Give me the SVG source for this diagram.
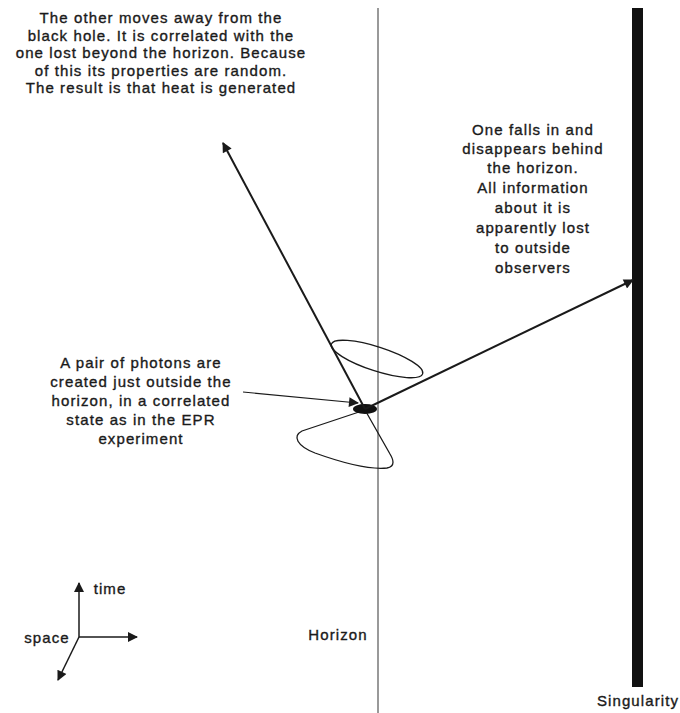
<svg xmlns="http://www.w3.org/2000/svg" width="680" height="713" viewBox="0 0 680 713">
<defs>
<style>
text{font-family:"Liberation Sans",Arial,sans-serif;font-size:15px;font-weight:normal;letter-spacing:1.1px;fill:#1a1a1a;stroke:#1a1a1a;stroke-width:0.35px;text-anchor:middle}
.ln{stroke:#1a1a1a;fill:none}
</style>
<marker id="ahb" viewBox="0 0 10 10" refX="9" refY="5" markerWidth="12" markerHeight="10" orient="auto" markerUnits="userSpaceOnUse">
<path d="M0,0 L10,5 L0,10 z" fill="#1a1a1a"/>
</marker>
</defs>
<rect width="680" height="713" fill="#fff"/>
<g id="horizon">
<line x1="378" y1="8" x2="378" y2="713" stroke="#777" stroke-width="1.5"/>
<text x="338" y="640">Horizon</text>
</g>
<g id="singularity">
<rect x="632" y="8" width="11" height="679" fill="#111"/>
<text x="638" y="706">Singularity</text>
</g>
<g id="cones">
<ellipse cx="377" cy="359" rx="48" ry="12" transform="rotate(18 377 359)" class="ln" stroke-width="1.3"/>
<path d="M365,410 L302,431 C292,436 297,446 315,453 C340,462 368,470 387,468 C396,466 393,459 390,454 L365,410" class="ln" stroke-width="1.3"/>
<ellipse cx="365" cy="409" rx="12" ry="5" fill="#111"/>
</g>
<g id="connectors">
<line x1="365" y1="409" x2="223" y2="143" class="ln" stroke-width="2" marker-end="url(#ahb)"/>
<line x1="365" y1="409" x2="633" y2="280" class="ln" stroke-width="2" marker-end="url(#ahb)"/>
<line x1="243" y1="392" x2="358" y2="403" class="ln" stroke-width="1.2" marker-end="url(#ahb)"/>
<line x1="79" y1="637" x2="79" y2="583" class="ln" stroke-width="1.5" marker-end="url(#ahb)"/>
<line x1="79" y1="637" x2="137" y2="637" class="ln" stroke="#555" stroke-width="1.5" marker-end="url(#ahb)"/>
<line x1="79" y1="637" x2="58" y2="680" class="ln" stroke-width="1.5" marker-end="url(#ahb)"/>
</g>
<g id="note-other">
<text x="161" y="23">The other moves away from the</text>
<text x="161" y="41">black hole. It is correlated with the</text>
<text x="161" y="58">one lost beyond the horizon. Because</text>
<text x="161" y="76">of this its properties are random.</text>
<text x="161" y="93">The result is that heat is generated</text>
</g>
<g id="note-falls">
<text x="533" y="135">One falls in and</text>
<text x="533" y="154">disappears behind</text>
<text x="533" y="173">the horizon.</text>
<text x="533" y="193">All information</text>
<text x="533" y="213">about it is</text>
<text x="533" y="233">apparently lost</text>
<text x="533" y="253">to outside</text>
<text x="533" y="273">observers</text>
</g>
<g id="note-pair">
<text x="141" y="368">A pair of photons are</text>
<text x="141" y="387">created just outside the</text>
<text x="141" y="406">horizon, in a correlated</text>
<text x="141" y="425">state as in the EPR</text>
<text x="141" y="444">experiment</text>
</g>
<g id="axes-labels">
<text x="110" y="594">time</text>
<text x="47" y="643">space</text>
</g>
</svg>
